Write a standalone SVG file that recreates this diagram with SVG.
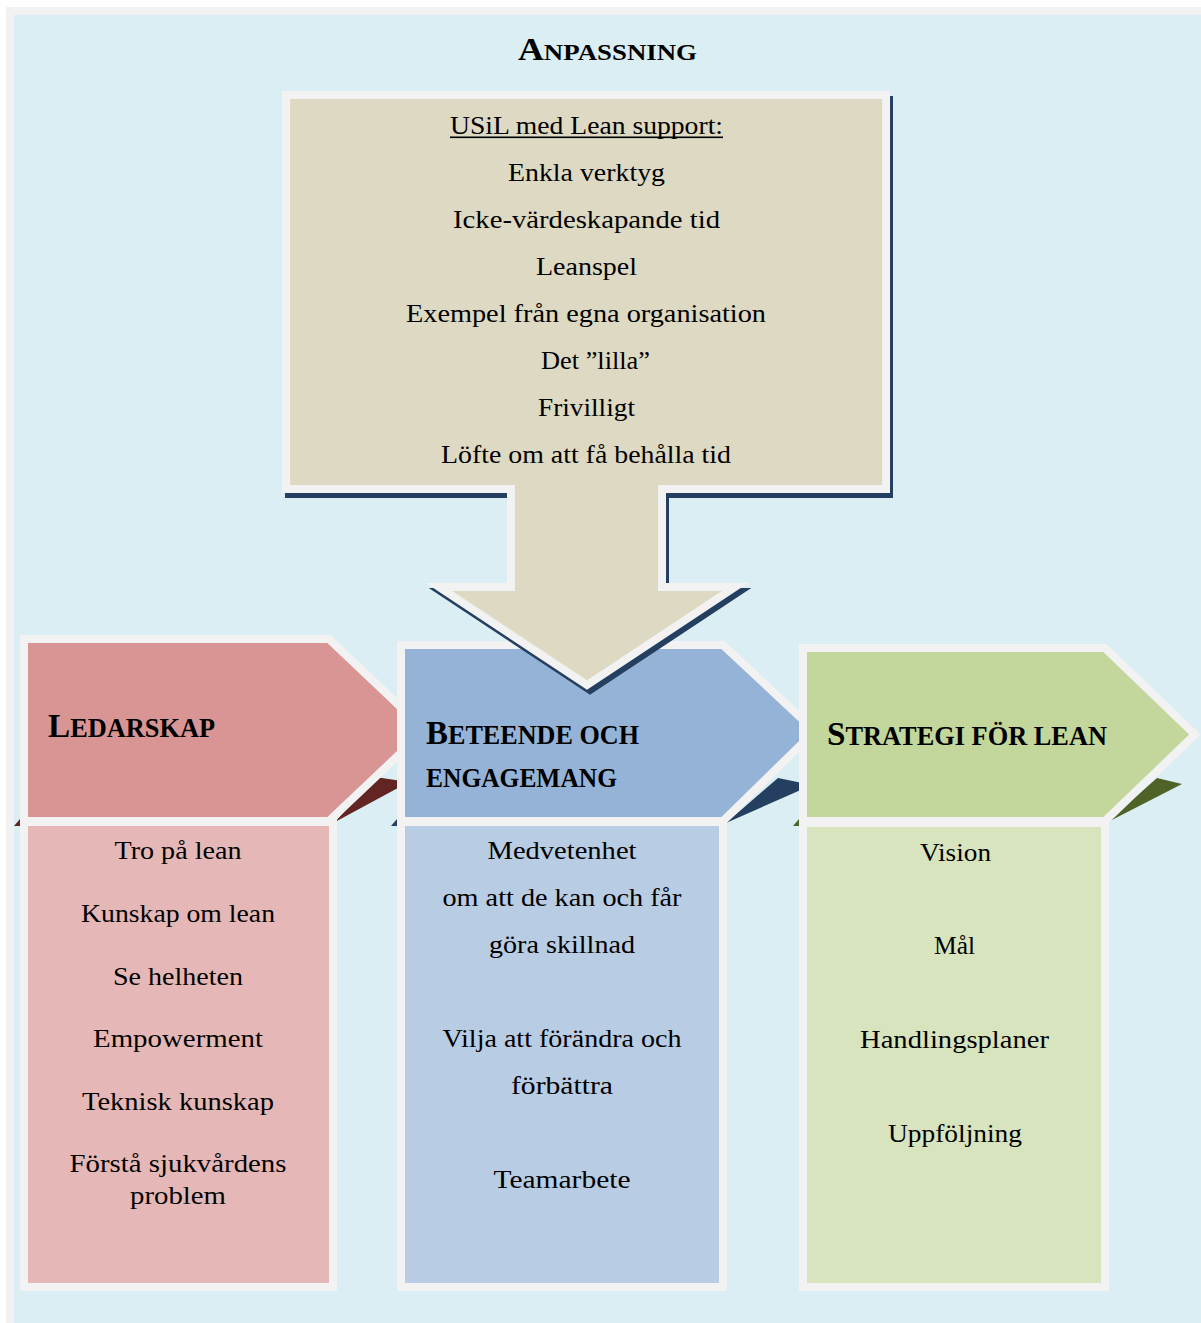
<svg xmlns="http://www.w3.org/2000/svg" width="1201" height="1323" viewBox="0 0 1201 1323">
<style>
.bd{stroke:#f2f2f2;stroke-width:8;stroke-linejoin:miter;stroke-miterlimit:10}
.t{font-family:"Liberation Serif","Times New Roman",serif;font-size:26px;fill:#000;text-anchor:middle}
.h{font-family:"Liberation Serif","Times New Roman",serif;font-weight:bold;fill:#000}
.big{font-size:34px}
.sm{font-size:27px}
</style>
<rect x="0" y="0" width="1201" height="1323" fill="#ffffff"/>
<rect x="6" y="7" width="1195" height="1316" fill="#f2f2f2"/>
<rect x="14" y="15" width="1187" height="1308" fill="#daeef3"/>
<text class="h" x="518" y="60" textLength="179" lengthAdjust="spacingAndGlyphs"><tspan font-size="32">A</tspan><tspan font-size="24">NPASSNING</tspan></text>

<g id="ledarskap">
  <polygon points="14,826 20,819 20,826" fill="#632523"/>
  <polygon points="335,822 375,777 409,782" fill="#632523"/>
  <rect class="bd" x="24" y="822" width="309" height="465" fill="#e5b8b7"/>
  <polygon class="bd" points="24,639 329,639 425,730 329,821 24,821" fill="#d99594"/>
  <text class="h" x="48" y="737" textLength="167" lengthAdjust="spacingAndGlyphs"><tspan class="big">L</tspan><tspan class="sm">EDARSKAP</tspan></text>
  <text class="t" x="178" y="859" textLength="127" lengthAdjust="spacingAndGlyphs">Tro på lean</text>
  <text class="t" x="178" y="922" textLength="194" lengthAdjust="spacingAndGlyphs">Kunskap om lean</text>
  <text class="t" x="178" y="985" textLength="130" lengthAdjust="spacingAndGlyphs">Se helheten</text>
  <text class="t" x="178" y="1047" textLength="170" lengthAdjust="spacingAndGlyphs">Empowerment</text>
  <text class="t" x="178" y="1110" textLength="192" lengthAdjust="spacingAndGlyphs">Teknisk kunskap</text>
  <text class="t" x="178" y="1172" textLength="217" lengthAdjust="spacingAndGlyphs">Förstå sjukvårdens</text>
  <text class="t" x="178" y="1204" textLength="96" lengthAdjust="spacingAndGlyphs">problem</text>
</g>

<g id="beteende">
  <polygon points="391,826 397,819 397,826" fill="#243f60"/>
  <polygon points="726,823 778,778 812,785" fill="#243f60"/>
  <rect class="bd" x="401" y="822" width="322" height="465" fill="#b8cce4"/>
  <polygon class="bd" points="401,645 723,645 815,731 723,821 401,821" fill="#95b3d7"/>
  <text class="h" x="426" y="744" textLength="213" lengthAdjust="spacingAndGlyphs"><tspan class="big">B</tspan><tspan class="sm">ETEENDE OCH</tspan></text>
  <text class="h" x="426" y="787" textLength="191" lengthAdjust="spacingAndGlyphs"><tspan class="sm">ENGAGEMANG</tspan></text>
  <text class="t" x="562" y="859" textLength="149" lengthAdjust="spacingAndGlyphs">Medvetenhet</text>
  <text class="t" x="562" y="906" textLength="239" lengthAdjust="spacingAndGlyphs">om att de kan och får</text>
  <text class="t" x="562" y="953" textLength="146" lengthAdjust="spacingAndGlyphs">göra skillnad</text>
  <text class="t" x="562" y="1047" textLength="239" lengthAdjust="spacingAndGlyphs">Vilja att förändra och</text>
  <text class="t" x="562" y="1094" textLength="102" lengthAdjust="spacingAndGlyphs">förbättra</text>
  <text class="t" x="562" y="1188" textLength="137" lengthAdjust="spacingAndGlyphs">Teamarbete</text>
</g>

<g id="anpassning">
  <polygon points="286,95 886,95 886,489 662,489 662,587 735,587 587,685 439,587 511,587 511,489 286,489" transform="translate(3,5)" fill="#243f60" stroke="#243f60" stroke-width="8" stroke-linejoin="miter" stroke-miterlimit="10"/>
  <polygon class="bd" points="286,95 886,95 886,489 662,489 662,587 735,587 587,685 439,587 511,587 511,489 286,489" fill="#ddd9c3"/>
  <text class="t" x="586.5" y="134" textLength="273" lengthAdjust="spacingAndGlyphs">USiL med Lean support:</text>
  <rect x="450" y="136.5" width="273" height="1.6" fill="#000"/>
  <text class="t" x="586.5" y="181" textLength="157" lengthAdjust="spacingAndGlyphs">Enkla verktyg</text>
  <text class="t" x="586.5" y="228" textLength="267" lengthAdjust="spacingAndGlyphs">Icke-värdeskapande tid</text>
  <text class="t" x="586.5" y="275" textLength="101" lengthAdjust="spacingAndGlyphs">Leanspel</text>
  <text class="t" x="586" y="322" textLength="360" lengthAdjust="spacingAndGlyphs">Exempel från egna organisation</text>
  <text class="t" x="595.5" y="369" textLength="109" lengthAdjust="spacingAndGlyphs">Det ”lilla”</text>
  <text class="t" x="586.5" y="416" textLength="97" lengthAdjust="spacingAndGlyphs">Frivilligt</text>
  <text class="t" x="586" y="463" textLength="290" lengthAdjust="spacingAndGlyphs">Löfte om att få behålla tid</text>
</g>

<g id="strategi">
  <polygon points="793,826 799,819 799,826" fill="#4f6228"/>
  <polygon points="1106,823 1157,778 1182,784" fill="#4f6228"/>
  <rect class="bd" x="803" y="823" width="302" height="464" fill="#d7e4bd"/>
  <polygon class="bd" points="803,648 1105,648 1195,734.5 1105,821 803,821" fill="#c3d69b"/>
  <text class="h" x="827" y="745" textLength="280" lengthAdjust="spacingAndGlyphs"><tspan class="big">S</tspan><tspan class="sm">TRATEGI FÖR LEAN</tspan></text>
  <text class="t" x="955.5" y="861" textLength="71" lengthAdjust="spacingAndGlyphs">Vision</text>
  <text class="t" x="954.5" y="954" textLength="41" lengthAdjust="spacingAndGlyphs">Mål</text>
  <text class="t" x="954.5" y="1048" textLength="189" lengthAdjust="spacingAndGlyphs">Handlingsplaner</text>
  <text class="t" x="955" y="1142" textLength="134" lengthAdjust="spacingAndGlyphs">Uppföljning</text>
</g>
<g id="connectors"></g>
</svg>
